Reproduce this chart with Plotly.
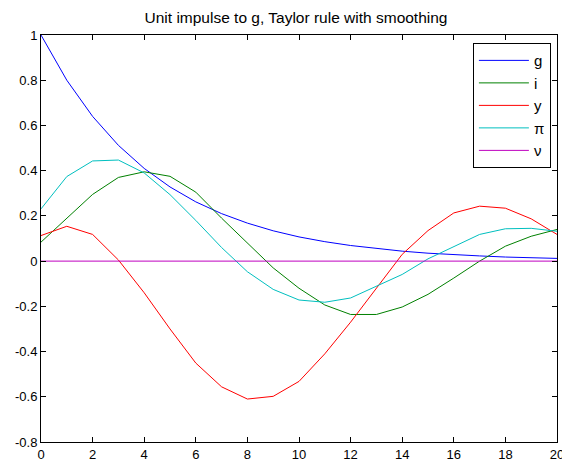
import plotly.graph_objects as go

t = list(range(21))
g = [1.0, 0.80, 0.64, 0.512, 0.41, 0.328, 0.262, 0.21, 0.168, 0.134, 0.107, 0.086,
     0.069, 0.055, 0.044, 0.035, 0.028, 0.023, 0.018, 0.014, 0.012]
i_ = [0.084, 0.19, 0.295, 0.37, 0.395, 0.375, 0.305, 0.19, 0.08, -0.03, -0.12, -0.194,
      -0.236, -0.236, -0.203, -0.147, -0.075, 0.0, 0.066, 0.11, 0.14]
y = [0.113, 0.154, 0.118, 0.005, -0.14, -0.30, -0.451, -0.556, -0.61, -0.598, -0.532,
     -0.41, -0.27, -0.12, 0.03, 0.135, 0.213, 0.243, 0.234, 0.187, 0.118]
pi = [0.231, 0.374, 0.443, 0.447, 0.39, 0.294, 0.18, 0.06, -0.047, -0.125, -0.172,
      -0.182, -0.163, -0.11, -0.059, 0.01, 0.065, 0.118, 0.143, 0.145, 0.132]
nu = [0.0] * 21

series = [("g", g, "#0000FF"), ("i", i_, "#008000"), ("y", y, "#FF0000"),
          ("π", pi, "#00BFBF"), ("ν", nu, "#BF00BF")]

fig = go.Figure()
for k, (name, vals, col) in enumerate(series):
    fig.add_trace(go.Scatter(x=t, y=vals, mode="lines", name=name,
                             line=dict(color=col, width=1)))

axis_common = dict(showline=True, linecolor="black", linewidth=1, mirror="ticks",
                   ticks="inside", ticklen=5, tickcolor="black", showgrid=False,
                   zeroline=False, tickfont=dict(size=13, color="black"),
                   automargin=False, ticklabeloverflow="allow")

fig.update_layout(
    width=562, height=462,
    margin=dict(l=41, r=5, t=35, b=20),
    paper_bgcolor="white", plot_bgcolor="white",
    font=dict(family="Liberation Sans, Arial, sans-serif", color="black"),
    title=dict(text="Unit impulse to g, Taylor rule with smoothing",
               x=296 / 562, xanchor="center", y=1 - 18 / 462, yanchor="middle",
               font=dict(size=15.5)),
    xaxis=dict(range=[0, 20], tickvals=list(range(0, 21, 2)), **axis_common),
    yaxis=dict(range=[-0.8, 1], tickvals=[-0.8, -0.6, -0.4, -0.2, 0, 0.2, 0.4, 0.6, 0.8, 1],
               ticktext=["-0.8", "-0.6", "-0.4", "-0.2", "0", "0.2", "0.4", "0.6", "0.8", "1"],
               **axis_common),
    legend=dict(x=0.837, y=0.98, xanchor="left", yanchor="top",
                bordercolor="black", borderwidth=1, bgcolor="white",
                font=dict(size=15), itemwidth=50),
    showlegend=True,
)

fig.write_html("out.html")
